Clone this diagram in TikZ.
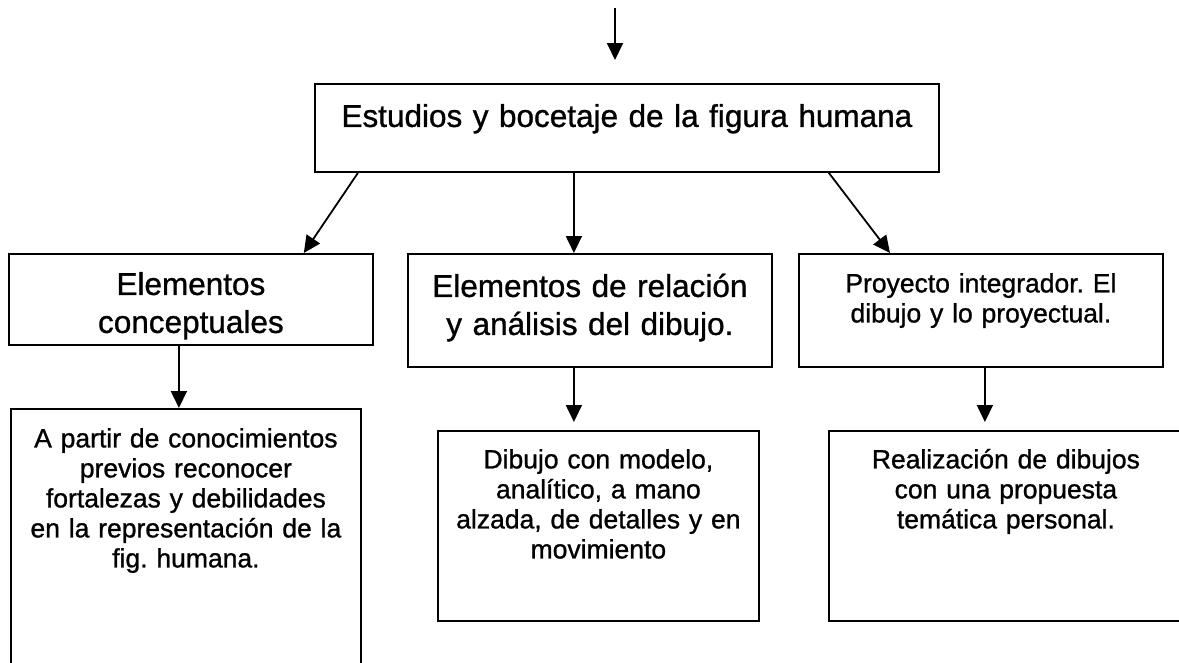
\documentclass[tikz,border=0pt]{standalone}
\usepackage{fontspec}
\setmainfont[FakeBold=1]{Liberation Sans}
\frenchspacing
\usetikzlibrary{arrows.meta}
\tikzset{
    caja/.style={draw, line width=1.8pt, inner sep=0pt, align=center, anchor=north west},
    grande/.style={font=\fontsize{31.5}{38}\selectfont},
    chica/.style={font=\fontsize{26.5}{30}\selectfont},
    flecha/.style={-{Triangle[length=17pt,width=16pt]}, line width=1.8pt}
}
\begin{document}
\begin{tikzpicture}[x=1pt,y=-1pt]
\useasboundingbox (0,0) rectangle (1179,662);
\node[caja,grande,text width=624pt,text height=43pt,text depth=45pt] (est) at (314,83) {Estudios y bocetaje de la figura humana};
\node[caja,grande,text width=364pt,text height=41pt,text depth=50pt] (conc) at (8,253) {Elementos\\conceptuales};
\node[caja,grande,text width=364pt,text height=43pt,text depth=70pt] (rel) at (407,253) {Elementos de relación\\y análisis del dibujo.};
\node[caja,chica,text width=364pt,text height=38.5pt,text depth=74.5pt] (proy) at (798,253) {Proyecto integrador. El\\dibujo y lo proyectual.};
\node[caja,chica,text width=350pt,text height=38.5pt,text depth=260pt] (partir) at (10,408) {A partir de conocimientos\\previos reconocer\\fortalezas y debilidades\\en la representación de la\\fig. humana.};
\node[caja,chica,text width=321pt,text height=37.5pt,text depth=152.5pt] (dibujo) at (437,430) {Dibujo con modelo,\\analítico, a mano\\alzada, de detalles y en\\movimiento};
\node[caja,chica,text width=354pt,text height=37.5pt,text depth=152.5pt] (realiz) at (828,430) {Realización de dibujos\\con una propuesta\\temática personal.};
\coordinate (entrada) at (615,8);
\draw[flecha,shorten >=23pt] (entrada) -- (entrada |- est.north);
\draw[flecha] ([xshift=44pt]est.south west) -- ([xshift=-70pt]conc.north east);
\draw[flecha] ([xshift=-16pt]rel.north |- est.south) -- ([xshift=-16pt]rel.north);
\draw[flecha] ([xshift=-111pt]est.south east) -- ([xshift=92pt]proy.north west);
\draw[flecha] ([xshift=-7pt]partir.north |- conc.south) -- ([xshift=-7pt]partir.north);
\draw[flecha,shorten >=8pt] ([xshift=-24.5pt]dibujo.north |- rel.south) -- ([xshift=-24.5pt]dibujo.north);
\draw[flecha,shorten >=8pt] ([xshift=-21pt]realiz.north |- proy.south) -- ([xshift=-21pt]realiz.north);
\end{tikzpicture}
\end{document}
